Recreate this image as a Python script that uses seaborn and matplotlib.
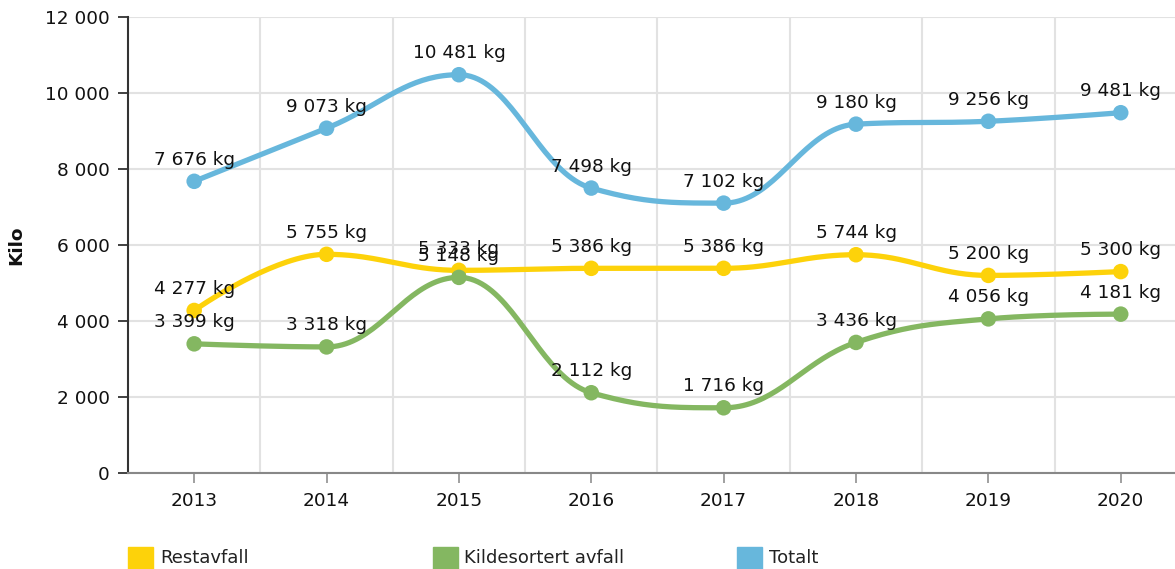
import numpy as np
import pandas as pd
import seaborn as sns
import matplotlib.pyplot as plt
from matplotlib.patches import Rectangle


YEARS = ["2013", "2014", "2015", "2016", "2017", "2018", "2019", "2020"]
RESTAVFALL = [4277, 5755, 5333, 5386, 5386, 5744, 5200, 5300]
KILDESORTERT = [3399, 3318, 5148, 2112, 1716, 3436, 4056, 4181]
TOTALT = [7676, 9073, 10481, 7498, 7102, 9180, 9256, 9481]
SERIES = ["Restavfall", "Kildesortert avfall", "Totalt"]
COLORS = {"Restavfall": "#fdd20a", "Kildesortert avfall": "#84b761", "Totalt": "#67b7dc"}


def spline(y, steps=40):
    # highcharts-like spline through the points
    x = np.arange(len(y), dtype=float)
    y = np.asarray(y, dtype=float)
    n = len(y)
    left = [(x[i], y[i]) for i in range(n)]
    right = [(x[i], y[i]) for i in range(n)]
    s, d = 1.5, 2.5
    for i in range(1, n - 1):
        lx = (s * x[i] + x[i - 1]) / d
        ly = (s * y[i] + y[i - 1]) / d
        rx = (s * x[i] + x[i + 1]) / d
        ry = (s * y[i] + y[i + 1]) / d
        corr = (ry - ly) * (rx - x[i]) / (rx - lx) + y[i] - ry
        ly += corr
        ry += corr
        if ly > y[i - 1] and ly > y[i]:
            ly = max(y[i - 1], y[i]); ry = 2 * y[i] - ly
        elif ly < y[i - 1] and ly < y[i]:
            ly = min(y[i - 1], y[i]); ry = 2 * y[i] - ly
        if ry > y[i + 1] and ry > y[i]:
            ry = max(y[i + 1], y[i]); ly = 2 * y[i] - ry
        elif ry < y[i + 1] and ry < y[i]:
            ry = min(y[i + 1], y[i]); ly = 2 * y[i] - ry
        left[i] = (lx, ly)
        right[i] = (rx, ry)
    t = np.linspace(0, 1, steps)
    xs, ys = [], []
    for i in range(n - 1):
        p0 = (x[i], y[i]); p1 = right[i]; p2 = left[i + 1]; p3 = (x[i + 1], y[i + 1])
        b = [(1 - t) ** 3, 3 * (1 - t) ** 2 * t, 3 * (1 - t) * t ** 2, t ** 3]
        xs.extend(b[0] * p0[0] + b[1] * p1[0] + b[2] * p2[0] + b[3] * p3[0])
        ys.extend(b[0] * p0[1] + b[1] * p1[1] + b[2] * p2[1] + b[3] * p3[1])
    return xs, ys


values = {"Restavfall": RESTAVFALL, "Kildesortert avfall": KILDESORTERT, "Totalt": TOTALT}

points = pd.concat([pd.DataFrame({"pos": range(len(YEARS)), "value": v, "series": k})
                    for k, v in values.items()], ignore_index=True)
curves = []
for k, v in values.items():
    xs, ys = spline(v)
    curves.append(pd.DataFrame({"pos": xs, "value": ys, "series": k}))
curves = pd.concat(curves, ignore_index=True)

sns.set_theme(style="white")
plt.rcParams["font.family"] = ["DejaVu Sans"]

fig = plt.figure(figsize=(11.75, 5.69), dpi=100)
ax = fig.add_axes([128 / 1175, 96 / 569, 1047 / 1175, 456 / 569])

sns.lineplot(data=curves, x="pos", y="value", hue="series", palette=COLORS, hue_order=SERIES,
             linewidth=3.8, legend=False, sort=False, estimator=None, units="series", ax=ax, zorder=2)
sns.scatterplot(data=points, x="pos", y="value", hue="series", palette=COLORS, s=125,
                edgecolor="none", legend=False, ax=ax, zorder=3)

for k, v in values.items():
    for i, val in enumerate(v):
        ax.annotate(f"{val:,}".replace(",", " ") + " kg", (i, val), xytext=(0, 9),
                    textcoords="offset points", ha="center", va="bottom", fontsize=13.3,
                    color="#111111", zorder=4)

ax.set_xlim(-0.5, 7.41)
ax.set_ylim(0, 12000)
ax.set_xticks(range(len(YEARS)))
ax.set_xticklabels(YEARS)
ax.set_xticks(np.arange(0.5, len(YEARS) - 0.5, 1), minor=True)
yt = np.arange(0, 12001, 2000)
ax.set_yticks(yt)
ax.set_yticklabels([f"{v:,}".replace(",", " ") for v in yt])

ax.grid(False)
ax.grid(which="minor", axis="x", color="#e2e2e2", linewidth=1.5)
ax.grid(which="major", axis="y", color="#e2e2e2", linewidth=1.5)
ax.set_axisbelow(True)

ax.tick_params(axis="y", which="major", length=7, width=1.3, color="#333333", pad=6,
               labelsize=13.3, labelcolor="#111111", left=True)
ax.tick_params(axis="x", which="major", length=7, width=1.3, color="#999999", pad=7,
               labelsize=13.3, labelcolor="#111111", bottom=True)
ax.tick_params(axis="x", which="minor", length=0)

for side in ["top", "right"]:
    ax.spines[side].set_visible(False)
ax.spines["left"].set_color("#333333")
ax.spines["left"].set_linewidth(1.5)
ax.spines["bottom"].set_color("#888888")
ax.spines["bottom"].set_linewidth(1.5)

ax.set_xlabel("")
ax.set_ylabel("Kilo", fontsize=13.3, fontweight="bold", color="#111111")
ax.yaxis.set_label_coords(-0.098, 0.5)

# legend at the bottom, partly clipped like the original
for i, name in enumerate(SERIES):
    x0 = (128 + i * 304.5) / 1175
    fig.add_artist(Rectangle((x0, -0.005), 25 / 1175, 25 / 569, transform=fig.transFigure,
                             color=COLORS[name]))
    fig.text(x0 + 32 / 1175, 11 / 569, name, fontsize=13, va="center", ha="left", color="#222222")

fig.savefig("out.png", dpi=100)
